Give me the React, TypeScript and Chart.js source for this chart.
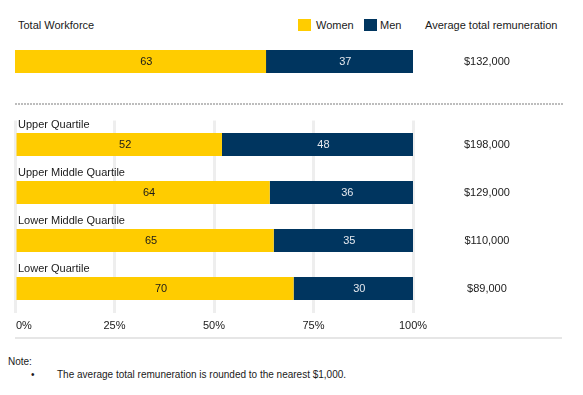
import React, { useEffect, useRef } from "react";
import { Chart, registerables } from "chart.js";

Chart.register(...registerables);

const SERIES = ["Women", "Men"];
const SERIES_COLORS = ["#FFCC00", "#00355F"];
const LABEL_COLORS = ["#1a1a1a", "#e4e8ee"];

const TOTAL_CATEGORY = ["Total Workforce"];
const TOTAL_WOMEN = [63];
const TOTAL_MEN = [37];
const TOTAL_REMUNERATION = ["$132,000"];

const CATEGORIES = ["Upper Quartile", "Upper Middle Quartile", "Lower Middle Quartile", "Lower Quartile"];
const WOMEN = [52, 64, 65, 70];
const MEN = [48, 36, 35, 30];
const REMUNERATION = ["$198,000", "$129,000", "$110,000", "$89,000"];

const X_TICKS = [0, 25, 50, 75, 100];
const NOTE_TITLE = "Note:";
const NOTE_TEXT = "The average total remuneration is rounded to the nearest $1,000.";
const HEADER_LEFT = "Total Workforce";
const HEADER_RIGHT = "Average total remuneration";

const FONT = "'Liberation Sans', Arial, sans-serif";
Chart.defaults.font.family = FONT;

const valueLabels = {
  id: "valueLabels",
  afterDatasetsDraw(chart: any) {
    const ctx = chart.ctx;
    ctx.save();
    ctx.font = `11px ${FONT}`;
    ctx.textAlign = "center";
    ctx.textBaseline = "middle";
    chart.data.datasets.forEach((ds: any, di: number) => {
      const meta = chart.getDatasetMeta(di);
      meta.data.forEach((bar: any, i: number) => {
        const p = bar.getProps(["x", "y", "base"], true);
        ctx.fillStyle = LABEL_COLORS[di];
        ctx.fillText(String(ds.data[i]), (p.x + p.base) / 2 + 6, p.y + 0.5);
      });
    });
    ctx.restore();
  },
};

const categoryLabels = {
  id: "categoryLabels",
  afterDatasetsDraw(chart: any) {
    const ctx = chart.ctx;
    const meta = chart.getDatasetMeta(0);
    ctx.save();
    ctx.font = `11px ${FONT}`;
    ctx.textAlign = "left";
    ctx.textBaseline = "middle";
    ctx.fillStyle = "#1a1a1a";
    meta.data.forEach((bar: any, i: number) => {
      const p = bar.getProps(["y", "height"], true);
      ctx.fillText(chart.data.labels[i], chart.chartArea.left + 3, p.y - p.height / 2 - 8);
    });
    ctx.restore();
  },
};

const xTickLabels = {
  id: "xTickLabels",
  afterDraw(chart: any) {
    const ctx = chart.ctx;
    const scale = chart.scales.x;
    ctx.save();
    ctx.font = `11px ${FONT}`;
    ctx.textBaseline = "middle";
    ctx.fillStyle = "#1a1a1a";
    scale.ticks.forEach((t: any) => {
      const px = scale.getPixelForValue(t.value);
      ctx.textAlign = t.value === 0 ? "left" : "center";
      ctx.fillText(t.value + "%", t.value === 0 ? px + 1 : px, chart.chartArea.bottom + 13);
    });
    ctx.restore();
  },
};

function makeConfig(labels: string[], women: number[], men: number[], rem: string[], barPct: number, padding: any, grid: boolean, extraPlugins: any[]) {
  return {
    type: "bar" as const,
    data: {
      labels,
      datasets: [
        { label: SERIES[0], data: women, backgroundColor: SERIES_COLORS[0], borderWidth: 0, barPercentage: barPct, categoryPercentage: 1 },
        { label: SERIES[1], data: men, backgroundColor: SERIES_COLORS[1], borderWidth: 0, barPercentage: barPct, categoryPercentage: 1 },
      ],
    },
    options: {
      indexAxis: "y" as const,
      animation: false as const,
      responsive: false,
      devicePixelRatio: 1,
      layout: { padding },
      plugins: { legend: { display: false }, tooltip: { enabled: false } },
      scales: {
        x: {
          stacked: true,
          min: 0,
          max: 100,
          display: grid,
          afterBuildTicks: (s: any) => {
            s.ticks = X_TICKS.map((v) => ({ value: v }));
          },
          ticks: { display: false },
          grid: { color: "#eeeeee", lineWidth: 3, drawTicks: false },
          border: { display: false },
        },
        y: { stacked: true, display: false },
        y2: {
          type: "category" as const,
          position: "right" as const,
          labels: rem,
          offset: true,
          grid: { display: false },
          border: { display: false },
          ticks: { padding: 43, crossAlign: "center" as const, color: "#1a1a1a", font: { size: 11, family: FONT } },
          afterFit: (s: any) => {
            s.width = 150;
            s.paddingTop = 0;
            s.paddingBottom = 0;
          },
        },
      },
    },
    plugins: [valueLabels, ...extraPlugins],
  };
}

function ChartCanvas({ top, height, config }: { top: number; height: number; config: () => any }) {
  const ref = useRef<HTMLCanvasElement>(null);
  useEffect(() => {
    if (!ref.current) return;
    const chart = new Chart(ref.current, config());
    return () => chart.destroy();
  }, []);
  return (
    <canvas
      ref={ref}
      width={583}
      height={height}
      style={{ position: "absolute", left: 0, top, width: 583, height }}
    />
  );
}

const textStyle: React.CSSProperties = {
  position: "absolute",
  fontFamily: FONT,
  fontSize: 11,
  lineHeight: "14px",
  color: "#1a1a1a",
  whiteSpace: "nowrap",
};

export default function App() {
  return (
    <div style={{ position: "absolute", left: 0, top: 0, width: 583, height: 395, background: "#fff", overflow: "hidden" }}>
      <div style={{ ...textStyle, left: 18, top: 18 }}>{HEADER_LEFT}</div>
      <div style={{ position: "absolute", left: 298, top: 19, width: 13, height: 12, background: SERIES_COLORS[0] }} />
      <div style={{ ...textStyle, left: 316, top: 18 }}>{SERIES[0]}</div>
      <div style={{ position: "absolute", left: 364, top: 19, width: 13, height: 12, background: SERIES_COLORS[1] }} />
      <div style={{ ...textStyle, left: 380, top: 18 }}>{SERIES[1]}</div>
      <div style={{ ...textStyle, left: 425, top: 18 }}>{HEADER_RIGHT}</div>

      <ChartCanvas
        top={40}
        height={45}
        config={() => makeConfig(TOTAL_CATEGORY, TOTAL_WOMEN, TOTAL_MEN, TOTAL_REMUNERATION, 1, { left: 15, right: 20, top: 10, bottom: 12 }, false, [])}
      />

      <div
        style={{
          position: "absolute",
          left: 15,
          top: 103,
          width: 548,
          height: 2,
          background: "repeating-linear-gradient(to right, #bdbdbd 0px, #bdbdbd 2px, transparent 2px, transparent 3px)",
        }}
      />

      <ChartCanvas
        top={110}
        height={225}
        config={() => makeConfig(CATEGORIES, WOMEN, MEN, REMUNERATION, 23 / 48, { left: 15, right: 20, top: 10.5, bottom: 22.5 }, true, [categoryLabels, xTickLabels])}
      />

      <div style={{ position: "absolute", left: 15, top: 337, width: 547, height: 2, background: "#e6e6e6" }} />

      <div style={{ ...textStyle, fontSize: 10, left: 8, top: 355 }}>{NOTE_TITLE}</div>
      <div style={{ ...textStyle, fontSize: 10, left: 31, top: 368 }}>•</div>
      <div style={{ ...textStyle, fontSize: 10, left: 57, top: 368 }}>{NOTE_TEXT}</div>
    </div>
  );
}
